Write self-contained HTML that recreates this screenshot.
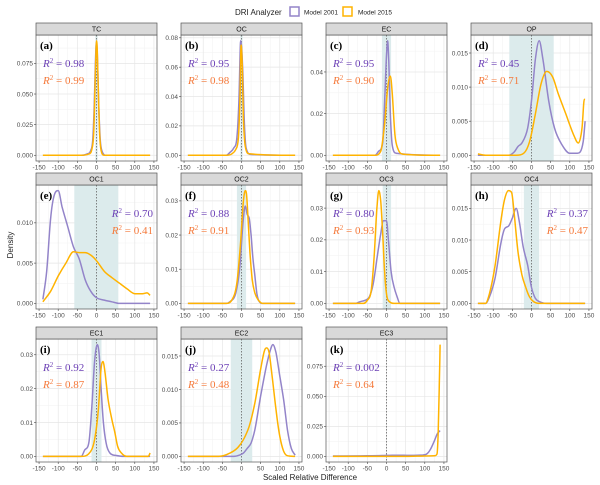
<!DOCTYPE html>
<html><head><meta charset="utf-8"><style>
body{margin:0;background:#fff;}
svg{display:block;font-family:"Liberation Sans",sans-serif;}
</style></head><body>
<svg id="chart" width="600" height="485"></svg>
<script>
const panelNames=["TC","OC","EC","OP","OC1","OC2","OC3","OC4","EC1","EC2","EC3"];
const panelLetters=["(a)","(b)","(c)","(d)","(e)","(f)","(g)","(h)","(i)","(j)","(k)"];
const r2Model2001=["0.98","0.95","0.95","0.45","0.70","0.88","0.80","0.37","0.92","0.27","0.002"];
const r2Model2015=["0.99","0.98","0.90","0.71","0.41","0.91","0.93","0.47","0.87","0.48","0.64"];
const yTicks=[[0,0.025,0.05,0.075],[0,0.02,0.04,0.06,0.08],[0,0.02,0.04],[0,0.005,0.01,0.015],[0,0.005,0.01],[0,0.01,0.02,0.03],[0,0.01,0.02,0.03],[0,0.005,0.01,0.015],[0,0.01,0.02,0.03],[0,0.005,0.01,0.015],[0,0.025,0.05,0.075]];
const yTickLabels=[["0.000","0.025","0.050","0.075"],["0.00","0.02","0.04","0.06","0.08"],["0.00","0.02","0.04"],["0.000","0.005","0.010","0.015"],["0.000","0.005","0.010"],["0.00","0.01","0.02","0.03"],["0.00","0.01","0.02","0.03"],["0.000","0.005","0.010","0.015"],["0.00","0.01","0.02","0.03"],["0.000","0.005","0.010","0.015"],["0.000","0.025","0.050","0.075"]];
const xTicks=[-150,-100,-50,0,50,100,150];
const bandLow=[-3,-3,-12,-58,-58,-12,-10,-20,-13,-28,null];
const bandHigh=[3,3,12,58,57,12,12,20,13,28,null];
const x2001=[
[-140,-40,-25,-15,-10,-6,-3,0,3,6,10,15,25,140],
[-140,-40,-30,-20,-12,-7,-2,3,7,12,25,140],
[-140,-30,-20,-10,-4,0,3,6,10,15,25,140],
[-140,-60,-45,-35,-25,-10,0,10,20,30,45,60,80,100,120,135,140],
[-140,-130,-120,-110,-100,-90,-75,-60,-45,-30,-15,0,20,40,60,140],
[-140,-40,-30,-15,-5,5,10,15,20,25,30,35,40,45,55,140],
[-140,-80,-70,-55,-45,-35,-25,-15,-8,0,5,12,20,28,35,140],
[-140,-120,-110,-95,-80,-70,-60,-50,-40,-32,-22,-10,0,10,20,40,140],
[-140,-40,-30,-20,-12,-5,2,7,12,18,25,35,50,70,140],
[-140,-20,-5,5,15,25,35,50,65,75,82,90,100,110,120,130,140],
[-140,-50,0,30,60,95,105,115,125,133,140]];
const y2001=[
[0,0,0.001,0.004,0.012,0.04,0.075,0.092,0.075,0.04,0.012,0.003,0,0],
[0,0,0.002,0.005,0.012,0.035,0.078,0.06,0.025,0.005,0.0005,0],
[0,0,0.002,0.006,0.03,0.048,0.055,0.045,0.02,0.005,0.001,0],
[0,0,0.0005,0.0013,0.0018,0.004,0.008,0.014,0.0168,0.014,0.008,0.004,0.0015,0.0003,0.0003,0.002,0.005],
[0.0005,0.004,0.0105,0.0135,0.014,0.012,0.0095,0.007,0.0055,0.003,0.0015,0.0007,0.0004,0.0002,0,0],
[0,0,0.0005,0.003,0.01,0.025,0.0285,0.026,0.025,0.02,0.013,0.008,0.003,0.0008,0,0],
[0,0,0.0005,0.001,0.002,0.006,0.014,0.022,0.026,0.026,0.02,0.01,0.005,0.002,0,0],
[0,0,0.001,0.004,0.0095,0.0118,0.0122,0.0135,0.015,0.013,0.009,0.006,0.0025,0.0008,0.0003,0,0],
[0,0,0.002,0.004,0.015,0.028,0.033,0.03,0.02,0.01,0.004,0.001,0.0003,0,0],
[0,0,0.0002,0.0005,0.0012,0.002,0.004,0.009,0.0135,0.0158,0.0167,0.0155,0.012,0.0085,0.004,0.0012,0.0002],
[0.0003,0.0005,0.0008,0.001,0.0008,0.0012,0.002,0.006,0.013,0.019,0.0215]];
const x2015=[
[-140,-40,-20,-12,-7,-4,-1,0,2,5,8,12,20,140],
[-140,-40,-25,-15,-8,-4,-1,2,5,10,20,140],
[-140,-30,-15,-5,3,10,15,22,30,45,140],
[-140,-120,-40,-20,-5,10,25,40,55,70,90,110,122,132,138,140],
[-140,-120,-100,-80,-60,-45,-30,-15,0,20,40,60,80,100,120,132,140],
[-140,-40,-25,-12,-3,5,10,13,17,22,28,35,45,55,140],
[-140,-60,-50,-40,-32,-25,-20,-15,-10,-5,0,8,20,140],
[-140,-120,-110,-95,-80,-70,-60,-52,-45,-35,-25,-15,-5,5,20,140],
[-140,-40,-20,-5,5,12,17,22,30,40,48,55,65,80,135,140],
[-140,-60,-30,-10,5,20,35,50,60,66,72,80,90,100,110,120,140],
[-140,50,100,125,132,135,138,140]];
const y2015=[
[0,0,0.001,0.005,0.02,0.055,0.088,0.0935,0.085,0.05,0.018,0.004,0,0],
[0,0,0.001,0.004,0.012,0.04,0.075,0.06,0.025,0.006,0.001,0],
[0,0,0.002,0.015,0.032,0.038,0.03,0.01,0.003,0.0005,0],
[0.0002,0,0,0.0003,0.002,0.006,0.0105,0.0123,0.0115,0.009,0.006,0.003,0.0018,0.004,0.0082,0.0082],
[0.0002,0.0015,0.0034,0.005,0.0064,0.0063,0.0063,0.006,0.0053,0.004,0.0032,0.0025,0.0018,0.0012,0.0012,0.0013,0.001],
[0,0,0.001,0.006,0.017,0.03,0.033,0.032,0.025,0.015,0.007,0.003,0.0008,0,0],
[0,0,0.001,0.004,0.015,0.03,0.0355,0.032,0.022,0.01,0.003,0.0005,0,0],
[0,0,0.0015,0.006,0.013,0.0165,0.0178,0.0175,0.014,0.008,0.0045,0.0025,0.001,0.0003,0,0],
[0,0,0.0008,0.005,0.014,0.026,0.028,0.025,0.017,0.011,0.007,0.003,0.001,0,0,0.001],
[0,0,0.0005,0.0013,0.0025,0.0045,0.008,0.013,0.0158,0.0162,0.0155,0.012,0.007,0.003,0.0008,0.0001,0],
[0,0,0.0003,0.0005,0.002,0.02,0.06,0.093]];

const NS="http://www.w3.org/2000/svg";
const svg=document.getElementById('chart');
function mk(tag,attrs,parent){const e=document.createElementNS(NS,tag);for(const k in attrs)e.setAttribute(k,attrs[k]);(parent||svg).appendChild(e);return e;}
const colL=[36,181,326,471], panelW=121;
const rowTop=[23,173,327], stripH=12, plotH=[126,124,123];
const C1="#9384c9", C2="#ffb300", T1="#6b3fb5", T2="#f5793a";

function monoPath(pts){
  const n=pts.length,dx=[],m=[],t=[];
  for(let i=0;i<n-1;i++){dx[i]=pts[i+1][0]-pts[i][0];m[i]=(pts[i+1][1]-pts[i][1])/dx[i];}
  t[0]=m[0];t[n-1]=m[n-2];
  for(let i=1;i<n-1;i++){t[i]=(m[i-1]*m[i]<=0)?0:(m[i-1]+m[i])/2;}
  for(let i=0;i<n-1;i++){
    if(m[i]===0){t[i]=0;t[i+1]=0;continue;}
    const a=t[i]/m[i],b=t[i+1]/m[i],s=a*a+b*b;
    if(s>9){const k=3/Math.sqrt(s);t[i]=k*a*m[i];t[i+1]=k*b*m[i];}
  }
  let d="M"+pts[0][0].toFixed(1)+","+pts[0][1].toFixed(1);
  for(let i=0;i<n-1;i++){
    const h=dx[i]/3;
    d+=" C"+(pts[i][0]+h).toFixed(1)+","+(pts[i][1]+t[i]*h).toFixed(1)+" "+(pts[i+1][0]-h).toFixed(1)+","+(pts[i+1][1]-t[i+1]*h).toFixed(1)+" "+pts[i+1][0].toFixed(1)+","+pts[i+1][1].toFixed(1);
  }
  return d;
}

panelNames.forEach((nm,i)=>{
  const r=Math.floor(i/4),c=i%4;
  const L=colL[c],T=rowTop[r]+stripH,H=plotH[r],B=T+H;
  const xs=v=>L+(v+158)/316*panelW;
  const maxY=Math.max(...y2001[i],...y2015[i]);
  const ys=v=>B-(v+0.05*maxY)/(1.1*maxY)*H;
  const g=mk('g',{});
  
  
  mk('rect',{x:L,y:T,width:panelW,height:H,fill:'#fff'},g);
  for(let k=0;k<xTicks.length-1;k++){const xv=(xTicks[k]+xTicks[k+1])/2;mk('line',{x1:xs(xv),x2:xs(xv),y1:T,y2:B,stroke:'#f2f2f2','stroke-width':0.5},g);}
  const yt=yTicks[i],step=yt[1]-yt[0];
  for(let v=step/2;ys(v)>T;v+=step){mk('line',{x1:L,x2:L+panelW,y1:ys(v),y2:ys(v),stroke:'#f2f2f2','stroke-width':0.5},g);}
  xTicks.forEach(xv=>mk('line',{x1:xs(xv),x2:xs(xv),y1:T,y2:B,stroke:'#e6e6e6','stroke-width':0.7},g));
  yt.forEach(v=>mk('line',{x1:L,x2:L+panelW,y1:ys(v),y2:ys(v),stroke:'#e6e6e6','stroke-width':0.7},g));
  if(bandLow[i]!==null){const b=mk('rect',{x:xs(bandLow[i]),y:T,width:xs(bandHigh[i])-xs(bandLow[i]),height:H,fill:'#dcebec'},g);
    }
  mk('line',{x1:xs(0),x2:xs(0),y1:T,y2:B,stroke:'#666','stroke-width':0.8,'stroke-dasharray':'1.5,1.5'},g);
  const p1=mk('path',{d:monoPath(x2001[i].map((x,k)=>[xs(x),ys(y2001[i][k])])),fill:'none',stroke:C1,'stroke-width':1.5},g);
  
  const p2=mk('path',{d:monoPath(x2015[i].map((x,k)=>[xs(x),ys(y2015[i][k])])),fill:'none',stroke:C2,'stroke-width':1.5},g);
  
  mk('rect',{x:L,y:T,width:panelW,height:H,fill:'none',stroke:'#555','stroke-width':0.7},g);
  const st=mk('rect',{x:L,y:T-stripH,width:panelW,height:stripH,fill:'#d9d9d9',stroke:'#555','stroke-width':0.7},g);
  
  const stt=mk('text',{x:L+panelW/2,y:T-3.5,'text-anchor':'middle','font-size':7,fill:'#1a1a1a'},g);stt.textContent=nm;
  xTicks.forEach(xv=>{mk('line',{x1:xs(xv),x2:xs(xv),y1:B,y2:B+2,stroke:'#444','stroke-width':0.6},g);
    const t=mk('text',{x:xs(xv),y:B+8.5,'text-anchor':'middle','font-size':6.5,fill:'#4d4d4d'},g);t.textContent=xv;
    });
  yt.forEach((v,k)=>{mk('line',{x1:L-2,x2:L,y1:ys(v),y2:ys(v),stroke:'#444','stroke-width':0.6},g);
    const t=mk('text',{x:L-3,y:ys(v)+2.3,'text-anchor':'end','font-size':6.5,fill:'#4d4d4d'},g);t.textContent=yTickLabels[i][k];
    });
  const lt=mk('text',{x:L+4,y:T+14,'font-size':11,'font-weight':'bold','font-family':'Liberation Serif,serif',fill:'#000'},g);lt.textContent=panelLetters[i];
  
  const right=(i===4||i===7);
  const ax=right?L+panelW-4:L+7, an=right?'end':'start';
  [[r2Model2001[i],T1,T+32],[r2Model2015[i],T2,T+49]].forEach(([v,col,yy],k)=>{
    const t=mk('text',{x:ax,y:yy,'text-anchor':an,'font-size':11,'font-family':'Liberation Serif,serif',fill:col},g);
    
    t.innerHTML='<tspan font-style="italic">R</tspan><tspan font-size="7" dy="-4">2</tspan><tspan dy="4"> = '+v+'</tspan>';
  });
});
</script>
<svg style="position:absolute;left:0;top:0" width="600" height="485">
<g font-family="Liberation Sans,sans-serif">
<text x="235" y="15" font-size="8" fill="#222">DRI Analyzer</text>
<rect x="290" y="7" width="9" height="9" fill="#fff" stroke="#9384c9" stroke-width="1.5"/>
<text x="304" y="14.5" font-size="6.5" fill="#222">Model 2001</text>
<rect x="343" y="7" width="9" height="9" fill="#fff" stroke="#ffb300" stroke-width="1.5"/>
<text x="358" y="14.5" font-size="6.5" fill="#222">Model 2015</text>
</g>
<text x="0" y="0" transform="translate(13,245) rotate(-90)" text-anchor="middle" font-family="Liberation Sans,sans-serif" font-size="8" fill="#222">Density</text>
<text x="310" y="480" text-anchor="middle" font-family="Liberation Sans,sans-serif" font-size="8" fill="#222">Scaled Relative Difference</text>
</svg>
</body></html>
